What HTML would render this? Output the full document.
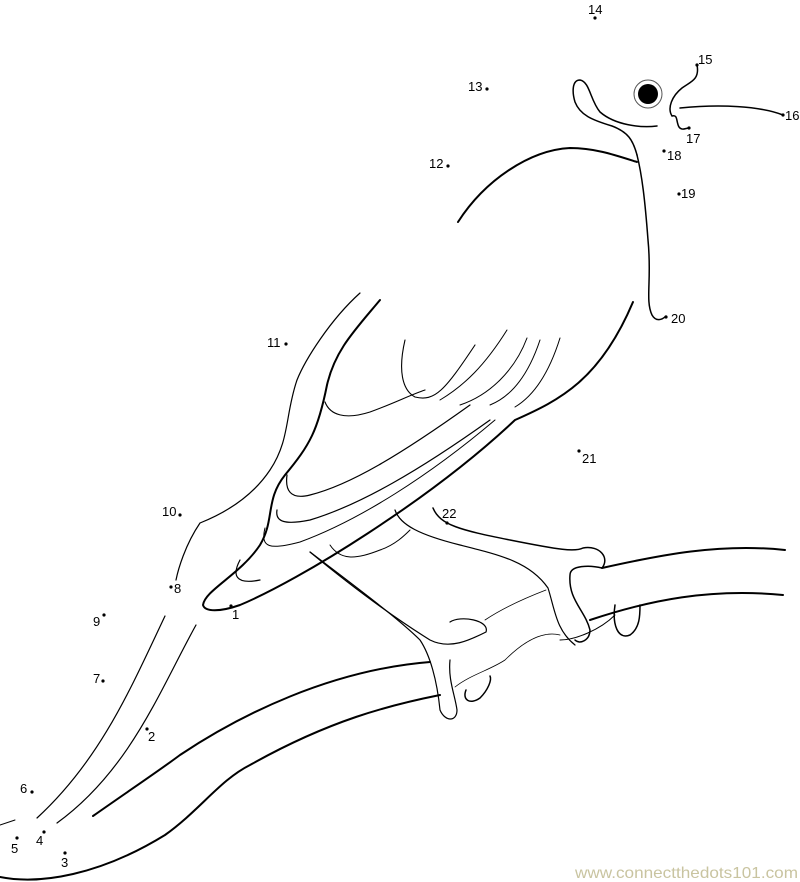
<!DOCTYPE html>
<html><head><meta charset="utf-8"><style>
html,body{margin:0;padding:0;background:#fff;}
svg{display:block;}
text{font-family:"Liberation Sans",sans-serif;font-size:13px;fill:#000;}
</style></head><body>
<svg width="800" height="882" viewBox="0 0 800 882" xmlns="http://www.w3.org/2000/svg">
<g fill="none" stroke="#000" stroke-linecap="round">
<!-- head crest -->
<path d="M657,126 C640,128 615,125 600,112 C590,100 590,82 580,80 C572,80 572,92 575,102 C580,115 592,120 612,126 C628,132 633,140 637,155" stroke-width="1.5"/>
<path d="M637,155 C642,175 645,200 648,240 C652,280 645,300 652,315 C656,322 662,320 666,316" stroke-width="1.5"/>
<!-- eye -->
<circle cx="648" cy="94" r="14" stroke-width="1" stroke="#555"/>
<circle cx="648" cy="94" r="10" fill="#000" stroke="none"/>
<!-- beak -->
<path d="M697,65 C700,80 690,82 682,88 C672,96 667,108 672,116 C678,114 676,122 679,127 C682,131 686,128 689,128" stroke-width="1.5"/>
<path d="M680,108 C720,104 760,106 783,115" stroke-width="1.5"/>
<!-- back -->
<path d="M458,222 C485,180 530,150 570,148 C595,148 615,155 637,162" stroke-width="2"/>
<!-- wing outer -->
<path d="M360,293 C330,320 305,360 297,380 C285,415 290,440 270,470 C250,500 220,515 200,523 C185,545 178,570 176,580" stroke-width="1.2"/>
<path d="M380,300 C355,330 335,350 327,385 C318,430 310,445 285,475 C265,500 275,520 260,545 C240,575 205,590 203,605 C205,612 220,612 240,605 C300,580 430,500 515,420 C560,400 600,380 633,302" stroke-width="2"/>
<!-- feathers -->
<path d="M405,340 C398,370 402,390 415,397 C435,402 445,390 475,345" stroke-width="1.1"/>
<path d="M325,402 C330,415 345,420 370,412 C395,403 410,395 425,390" stroke-width="1.1"/>
<path d="M440,400 C465,385 485,365 507,330" stroke-width="1"/>
<path d="M460,405 C490,395 515,370 527,338" stroke-width="1"/>
<path d="M490,405 C515,395 530,370 540,340" stroke-width="1"/>
<path d="M515,407 C535,395 550,370 560,338" stroke-width="1"/>
<path d="M287,475 C285,490 290,500 310,495 C350,485 400,455 470,405" stroke-width="1.2"/>
<path d="M277,510 C275,522 285,525 310,520 C360,505 420,470 490,420" stroke-width="1.2"/>
<path d="M265,528 C260,548 270,550 300,542 C360,520 430,475 495,420" stroke-width="1"/>
<path d="M240,560 C232,575 235,585 260,580" stroke-width="1.2"/>
<!-- legs -->
<path d="M310,552 C350,585 390,615 430,640 C450,650 470,640 486,632 C490,620 460,615 450,622" stroke-width="1.2"/>
<path d="M330,545 C340,560 355,560 380,550 C395,545 405,535 410,530" stroke-width="1"/>
<path d="M395,510 C400,525 420,535 460,545 C500,555 530,562 548,588 C555,610 556,630 575,645" stroke-width="1.2"/>
<path d="M433,508 C440,525 460,530 510,540 C560,550 575,552 583,548 C600,545 610,558 602,568 C590,565 570,565 570,575 C568,600 585,610 590,630 C590,640 580,645 575,640" stroke-width="1.5"/>
<path d="M310,552 C360,590 400,620 420,640 C430,655 437,680 440,710 C445,722 457,722 457,710 C455,695 448,680 450,660" stroke-width="1.2"/>
<path d="M466,690 C462,700 470,705 480,698 C488,690 492,680 490,676" stroke-width="1.5"/>
<path d="M615,605 C612,625 618,640 630,635 C640,628 640,615 640,605" stroke-width="1.5"/>
<path d="M560,640 C575,640 600,630 615,615" stroke-width="1"/>
<!-- branch -->
<path d="M602,568 C660,555 720,543 785,550" stroke-width="2"/>
<path d="M590,620 C650,600 710,588 783,595" stroke-width="2"/>
<path d="M546,590 C520,600 500,610 485,620" stroke-width="0.8"/>
<path d="M560,635 C540,630 520,645 505,660 C490,670 470,675 455,687" stroke-width="0.8"/>
<path d="M93,816 C130,790 160,770 180,755 C240,715 330,670 430,662" stroke-width="2"/>
<path d="M0,877 C40,885 100,875 165,835 C200,810 220,780 250,765 C330,720 390,705 440,695" stroke-width="2"/>
<path d="M0,825 L15,820" stroke-width="1"/>
<!-- tail -->
<path d="M165,616 C130,690 100,760 37,818" stroke-width="1.2"/>
<path d="M196,625 C160,690 130,770 57,823" stroke-width="1.2"/>
</g>
<g fill="#000">
<circle cx="231" cy="606" r="1.6"/><circle cx="147" cy="729" r="1.6"/><circle cx="65" cy="853" r="1.6"/>
<circle cx="44" cy="832" r="1.6"/><circle cx="17" cy="838" r="1.6"/><circle cx="32" cy="792" r="1.6"/>
<circle cx="103" cy="681" r="1.6"/><circle cx="171" cy="587" r="1.6"/><circle cx="104" cy="615" r="1.6"/>
<circle cx="180" cy="515" r="1.6"/><circle cx="286" cy="344" r="1.6"/><circle cx="448" cy="166" r="1.6"/>
<circle cx="487" cy="89" r="1.6"/><circle cx="595" cy="18" r="1.6"/><circle cx="697" cy="65" r="1.6"/>
<circle cx="783" cy="115" r="1.6"/><circle cx="689" cy="128" r="1.6"/><circle cx="664" cy="151" r="1.6"/>
<circle cx="679" cy="194" r="1.6"/><circle cx="666" cy="317" r="1.6"/><circle cx="579" cy="451" r="1.6"/>
<circle cx="447" cy="523" r="1.6"/>
</g>
<text x="232" y="619">1</text><text x="148" y="741">2</text><text x="61" y="867">3</text>
<text x="36" y="845">4</text><text x="11" y="853">5</text><text x="20" y="793">6</text>
<text x="93" y="683">7</text><text x="174" y="593">8</text><text x="93" y="626">9</text>
<text x="162" y="516">10</text><text x="267" y="347">11</text><text x="429" y="168">12</text>
<text x="468" y="91">13</text><text x="588" y="14">14</text><text x="698" y="64">15</text>
<text x="785" y="120">16</text><text x="686" y="143">17</text><text x="667" y="160">18</text>
<text x="681" y="198">19</text><text x="671" y="323">20</text><text x="582" y="463">21</text>
<text x="442" y="518">22</text>
<text x="575" y="878" textLength="223" lengthAdjust="spacingAndGlyphs" style="font-size:16px;fill:#c9c4a0">www.connectthedots101.com</text>
</svg>
</body></html>
